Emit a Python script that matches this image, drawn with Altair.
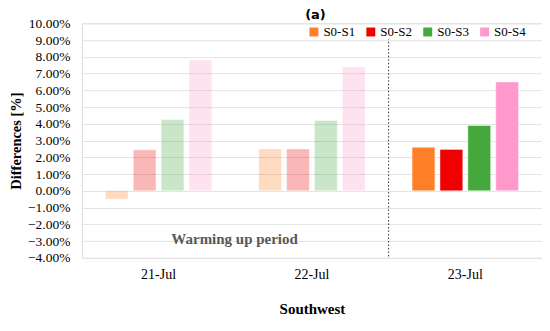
import altair as alt
import pandas as pd

days = ["21-Jul", "22-Jul", "23-Jul"]
series = ["S0-S1", "S0-S2", "S0-S3", "S0-S4"]
values = {
    "21-Jul": [-0.005, 0.0245, 0.0425, 0.078],
    "22-Jul": [0.025, 0.025, 0.042, 0.074],
    "23-Jul": [0.026, 0.0247, 0.039, 0.065],
}
warming = {"21-Jul": "warm", "22-Jul": "warm", "23-Jul": "main"}
colors = ["#FF7F27", "#F00000", "#44A83C", "#FF99CC"]
yticks = [i / 100 for i in range(-4, 11)]

rows = []
for d in days:
    for s, v in zip(series, values[d]):
        rows.append({"day": d, "series": s, "value": v, "period": warming[d]})
df = pd.DataFrame(rows)

W, H = 461, 235
serif = "Liberation Serif"

xscale = alt.Scale(domain=days, paddingInner=0, paddingOuter=0)
yscale = alt.Scale(domain=[-0.04, 0.10], nice=False)

xaxis = alt.Axis(title="Southwest", labelAngle=0, ticks=False, domain=False,
                 labelFont=serif, labelFontSize=14, labelColor="#000",
                 labelPadding=10, titleFont=serif, titleFontSize=15,
                 titleFontWeight="bold", titlePadding=20, titleColor="#000")
yaxis = alt.Axis(title="Differences [%]", values=yticks, format=".2%",
                 ticks=False, domain=False, grid=True, gridColor="#E3E3E3",
                 labelOverlap=False, labelFlush=False,
                 labelFont=serif, labelFontSize=13.5, labelColor="#000",
                 labelPadding=12, titleFont=serif, titleFontSize=14.5,
                 titleFontWeight="bold", titleColor="#000", titlePadding=4)

bars = alt.Chart(df).mark_bar(stroke="white", strokeWidth=0.5).encode(
    x=alt.X("day:N", scale=xscale, sort=days, axis=xaxis),
    xOffset=alt.XOffset("series:N", sort=series,
                        scale=alt.Scale(paddingInner=0.18, paddingOuter=0.84)),
    y=alt.Y("value:Q", scale=yscale, axis=yaxis),
    color=alt.Color("series:N", sort=series,
                    scale=alt.Scale(domain=series, range=colors),
                    legend=alt.Legend(title=None, orient="none", direction="horizontal",
                                      columns=4, legendX=226, legendY=2,
                                      symbolType="square", symbolSize=80,
                                      symbolStrokeWidth=0, symbolOpacity=1,
                                      labelFont=serif, labelFontSize=13,
                                      labelColor="#000", labelOffset=3,
                                      columnPadding=9, fillColor="white")),
    opacity=alt.Opacity("period:N",
                        scale=alt.Scale(domain=["warm", "main"], range=[0.28, 1.0]),
                        legend=None),
)

rule_df = pd.DataFrame({"day": ["23-Jul"], "top": [0.091], "bottom": [-0.04]})
rule = alt.Chart(rule_df).mark_rule(color="#333", strokeDash=[1.5, 2], strokeWidth=1).encode(
    x=alt.X("day:N", scale=xscale, sort=days, bandPosition=0, axis=xaxis),
    y=alt.Y("top:Q", scale=yscale, axis=yaxis),
    y2="bottom:Q",
)

note_df = pd.DataFrame({"text": ["Warming up period"], "value": [-0.029]})
note = alt.Chart(note_df).mark_text(font=serif, fontSize=15, fontWeight="bold",
                                    color="#595959").encode(
    x=alt.value(153), y=alt.Y("value:Q", scale=yscale, axis=yaxis), text="text:N")

title_df = pd.DataFrame({"text": ["(a)"]})
title = alt.Chart(title_df).mark_text(font="DejaVu Sans", fontSize=13, fontWeight="bold",
                                      color="#000", baseline="middle").encode(
    x=alt.value(234), y=alt.value(-8), text="text:N")

chart = alt.layer(bars, rule, note, title).properties(
    width=W, height=H,
    autosize=alt.AutoSizeParams(type="none"),
    padding={"left": 74, "top": 15, "right": 0, "bottom": 59},
).configure_view(stroke=None).configure(background="white")

chart.save("out.html", embed_options={"renderer": "svg", "actions": False})
